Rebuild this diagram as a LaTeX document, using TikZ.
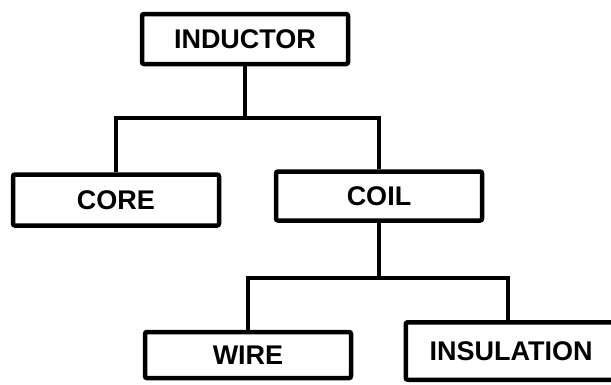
\documentclass[tikz,border=0pt]{standalone}
\usepackage{fontspec}
\setmainfont{Liberation Sans}
\begin{document}
\begin{tikzpicture}[x=1pt,y=-1pt,
  box/.style={draw=black, line width=4.5pt, rounded corners=2pt, minimum width=206pt,
    font=\fontsize{27}{29}\selectfont\bfseries, inner sep=0pt, fill=white},
  frame/.style={draw=black, line width=4.5pt, rounded corners=2pt},
  link/.style={draw=black, line width=4pt}]
\path[use as bounding box, clip] (0,0) rectangle (611,384);
\node[box, minimum height=50pt] (ind) at (245,39) {INDUCTOR};
\node[box, minimum height=51pt] (core) at (116,200) {CORE};
\node[box, minimum height=49pt] (coil) at (379,196) {COIL};
\node[box, minimum height=46pt] (wire) at (248,355) {WIRE};
\node[box, draw=none, minimum height=53pt, minimum width=206pt] (ins) at (511,351) {INSULATION};
\draw[frame] ([xshift=30pt]ins.north east) -- (ins.north west) -- (ins.south west) -- ([xshift=30pt]ins.south east);
\draw[link] (ind.south) -- ++(0,52) -| (core.north);
\draw[link] (ind.south) -- ++(0,52) -| (coil.north);
\draw[link] (coil.south) -- ++(0,55) -| ([xshift=-3pt]ins.north);
\draw[link] (coil.south) -- ++(0,55) -| (wire.north);
\end{tikzpicture}
\end{document}
